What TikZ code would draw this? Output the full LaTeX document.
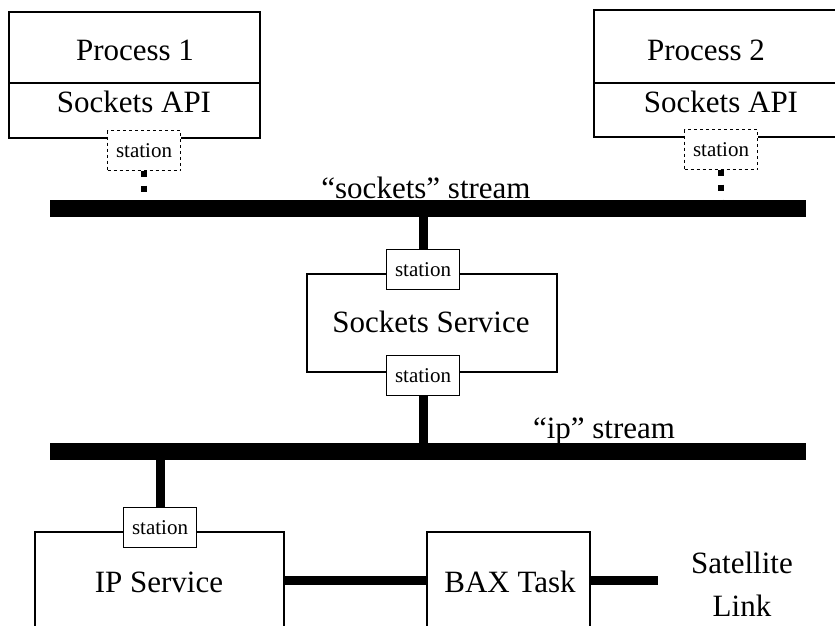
\documentclass[tikz,border=0pt]{standalone}
\usepackage{fontspec}
\setmainfont{Liberation Serif}
\tikzset{box/.style = {shape=rectangle, draw, line width=1.6pt,
inner sep=0pt, outer sep=0pt}}
\tikzset{station/.style = {shape=rectangle, draw, fill=white, line width=1.4pt,
minimum width=73pt, minimum height=40pt, inner sep=0pt, outer sep=0pt,
font=\fontsize{21}{25}\selectfont}}
\tikzset{dstation/.style = {station, dashed, line width=0.9pt}}
\tikzset{bus/.style = {shape=rectangle, fill=black, minimum width=756pt,
minimum height=17pt, inner sep=0pt, outer sep=0pt}}
\tikzset{lbl/.style = {inner sep=0pt, font=\fontsize{31}{43}\selectfont}}
\tikzset{link/.style = {line width=9pt}}
\tikzset{dotlink/.style = {line width=6pt, dash pattern=on 6pt off 9pt}}
\begin{document}
\begin{tikzpicture}[x=1pt,y=-1pt]
                \useasboundingbox (0,0) rectangle (835,626);
                \clip (0,0) rectangle (835,626);

                \node[box, minimum width=251pt, minimum height=71pt] (P1) at (134.5,47.5) {};
                \node[box, minimum width=251pt, minimum height=55pt] (A1) at (134.5,110.5) {};
                \node[lbl] (P1t) at (135,50) {Process 1};
                \node[lbl] (A1t) at (134,102) {Sockets API};
                \node[box, minimum width=251pt, minimum height=73pt] (P2) at (719.5,46.5) {};
                \node[box, minimum width=251pt, minimum height=54pt] (A2) at (719.5,110) {};
                \node[lbl] (P2t) at (706,50) {Process 2};
                \node[lbl] (A2t) at (721,102) {Sockets API};

                \node[bus] (B1) at (428,208.5) {};
                \node[lbl, anchor=base] (B1t) at (426,198) {``sockets'' stream};
                \node[box, minimum width=250pt, minimum height=98pt] (SS) at (432,323) {};
                \node[lbl] (SSt) at (431,322) {Sockets Service};
                \node[bus] (B2) at (428,451.5) {};
                \node[lbl, anchor=base] (B2t) at (604,438) {``ip'' stream};

                \node[box, minimum width=249pt, minimum height=168pt] (IP) at (159.5,616) {};
                \node[lbl] (IPt) at (159,582) {IP Service};
                \node[box, minimum width=163pt, minimum height=168pt] (BAX) at (508.5,616) {};
                \node[lbl] (BAXt) at (510,582) {BAX Task};
                \node[lbl, align=center] (Sat) at (742,584) {Satellite\\Link};
                \coordinate (satend) at (658,580);

                \node[dstation] (S1) at (144,150.5) {station};
                \node[dstation] (S2) at (721,149.5) {station};
                \node[station] (S3) at (423,269.5) {station};
                \node[station] (S4) at (423,375.5) {station};
                \node[station] (S5) at (160,527.5) {station};

                \draw[dotlink] (S1.south) to (S1.south |- B1.north);
                \draw[dotlink] (S2.south) to (S2.south |- B1.north);
                \draw[link] (S3.north) to (S3.north |- B1.south);
                \draw[link] (S4.south) to (S4.south |- B2.north);
                \draw[link] (S5.north) to (S5.north |- B2.south);
                \draw[link] (IP.east |- satend) to (BAX.west |- satend);
                \draw[link] (BAX.east |- satend) to (satend);
            \end{tikzpicture}
\end{document}
